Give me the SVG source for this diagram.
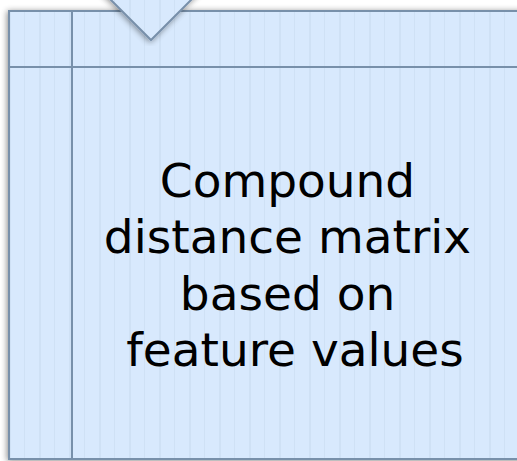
<svg xmlns="http://www.w3.org/2000/svg" width="517" height="461" viewBox="0 0 517 461">
  <style>
    .panel { fill: url(#stripes); stroke: #7890aa; stroke-width: 2; }
    .rule { stroke: #7890aa; stroke-width: 2; fill: none; }
    .label { font-family: "DejaVu Sans", Verdana, sans-serif; font-size: 47px; fill: #000; text-anchor: middle; }
  </style>
  <defs>
    <pattern id="stripes" patternUnits="userSpaceOnUse" x="24" y="0" width="30" height="10">
      <rect width="30" height="10" fill="#d8e9fd"/>
      <rect x="-1" width="2" height="10" fill="#cfe1f5"/>
      <rect x="15" width="2" height="10" fill="#cfe1f5"/>
    </pattern>
    <filter id="shadow" x="-10%" y="-10%" width="120%" height="120%">
      <feGaussianBlur in="SourceAlpha" stdDeviation="3"/>
      <feOffset dx="-1" dy="1" result="b"/>
      <feComponentTransfer><feFuncA type="linear" slope="0.45"/></feComponentTransfer>
      <feMerge><feMergeNode/><feMergeNode in="SourceGraphic"/></feMerge>
    </filter>
  </defs>

  <g id="matrix-box">
    <rect class="panel" x="9" y="11" width="530" height="448" filter="url(#shadow)"/>
    <line class="rule" x1="72" y1="11" x2="72" y2="459"/>
    <line class="rule" x1="9" y1="67" x2="539" y2="67"/>
    <text class="label">
      <tspan x="295" y="197">Compound</tspan>
      <tspan x="295" y="253">distance matrix</tspan>
      <tspan x="295" y="310">based on</tspan>
      <tspan x="295" y="366">feature values</tspan>
    </text>
  </g>

  <g id="connectors">
    <polygon points="96,-15 151,40 206,-15" fill="url(#stripes)" stroke="#7890aa" stroke-width="2" stroke-linejoin="miter" filter="url(#shadow)"/>
  </g>
</svg>
